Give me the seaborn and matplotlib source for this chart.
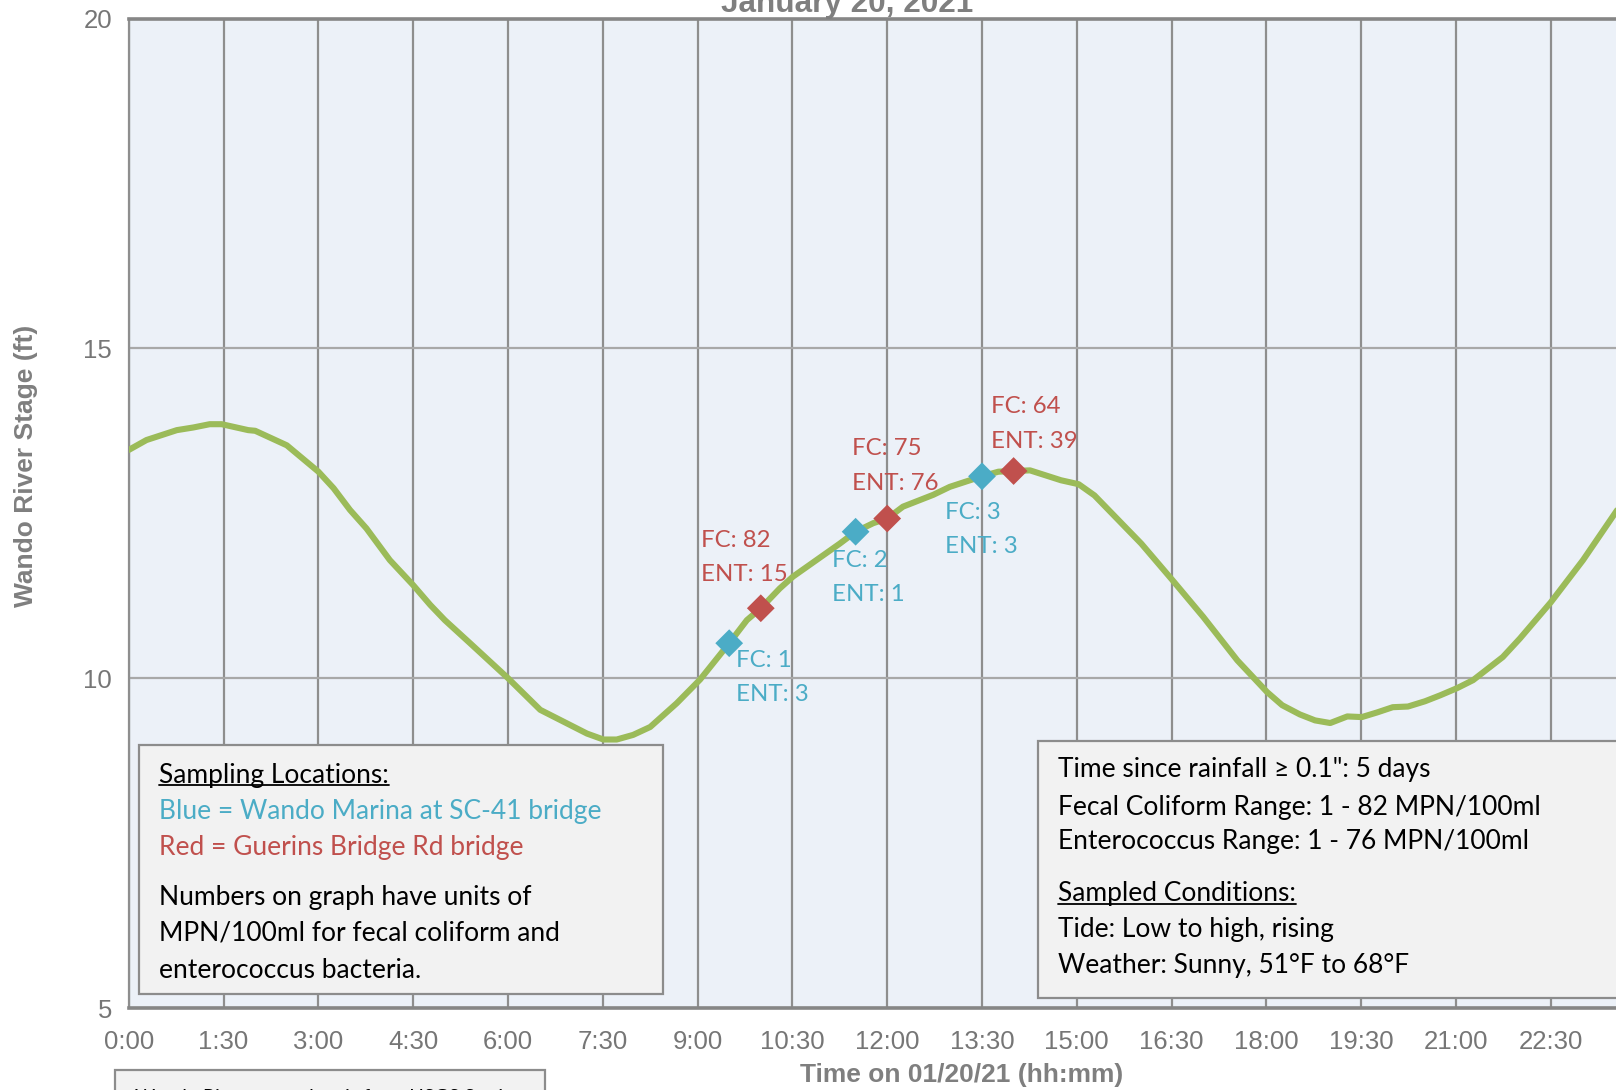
import matplotlib
matplotlib.use("Agg")
import matplotlib.pyplot as plt
import seaborn as sns
import pandas as pd
from matplotlib.patches import Rectangle
from matplotlib.lines import Line2D

# ---------------- data ----------------
hours = [0.00, 0.28, 0.76, 1.02, 1.28, 1.47, 1.89, 2.00, 2.50, 3.00, 3.24, 3.50,
         3.76, 4.13, 4.50, 4.77, 5.00, 5.40, 6.00, 6.51, 7.25, 7.51, 7.72, 7.98,
         8.25, 8.67, 9.04, 9.50, 9.78, 10.00, 10.30, 10.51, 10.88, 11.25, 11.50,
         11.78, 12.00, 12.25, 12.73, 12.99, 13.50, 13.76, 14.00, 14.26, 14.75,
         15.03, 15.28, 16.02, 16.51, 17.00, 17.54, 18.01, 18.25, 18.53, 18.77,
         19.01, 19.28, 19.51, 19.75, 20.00, 20.24, 20.51, 20.75, 21.02, 21.27,
         21.74, 22.01, 22.50, 23.01, 23.53, 23.60]
stage_ft = [13.46, 13.61, 13.76, 13.80, 13.85, 13.85, 13.76, 13.75, 13.53, 13.13,
            12.88, 12.55, 12.27, 11.79, 11.41, 11.11, 10.88, 10.53, 10.00, 9.52,
            9.16, 9.07, 9.07, 9.14, 9.26, 9.62, 9.98, 10.53, 10.88, 11.06, 11.36,
            11.54, 11.79, 12.04, 12.22, 12.35, 12.42, 12.60, 12.78, 12.90, 13.06,
            13.13, 13.14, 13.15, 13.00, 12.94, 12.77, 12.04, 11.49, 10.93, 10.27,
            9.79, 9.59, 9.45, 9.36, 9.32, 9.42, 9.41, 9.48, 9.56, 9.57, 9.65,
            9.74, 9.85, 9.97, 10.32, 10.60, 11.15, 11.79, 12.52, 12.62]

blue_hours = [9.50, 11.50, 13.50]
blue_stage = [10.53, 12.22, 13.06]
blue_labels = ["FC: 1\nENT: 3", "FC: 2\nENT: 1", "FC: 3\nENT: 3"]

red_hours = [10.00, 12.00, 14.00]
red_stage = [11.06, 12.42, 13.14]
red_labels = ["FC: 82\nENT: 15", "FC: 75\nENT: 76", "FC: 64\nENT: 39"]

x_ticks = [0, 1.5, 3, 4.5, 6, 7.5, 9, 10.5, 12, 13.5, 15, 16.5, 18, 19.5, 21, 22.5]
x_tick_labels = ["0:00", "1:30", "3:00", "4:30", "6:00", "7:30", "9:00", "10:30",
                 "12:00", "13:30", "15:00", "16:30", "18:00", "19:30", "21:00",
                 "22:30"]
y_ticks = [5, 10, 15, 20]

title = "January 20, 2021"
x_title = "Time on 01/20/21 (hh:mm)"
y_title = "Wando River Stage (ft)"

# ---------------- style ----------------
sns.set_style("white")
plt.rcParams["font.family"] = ["Liberation Sans", "DejaVu Sans"]

W, H = 1616, 1090
fig = plt.figure(figsize=(W / 100, H / 100), dpi=100)
fig.patch.set_facecolor("white")

def fx(px):
    return px / W

def fy(py):
    return 1 - py / H

GREEN = "#9BBB59"
BLUE = "#4BACC6"
RED = "#C0504D"
AXGRAY = "#7F7F7F"
TXTGRAY = "#767676"
CAL = ["Lato", "DejaVu Sans"]

left_px, top_px, bottom_px = 128.8, 18.5, 1008
right_px = left_px + 24 * 63.2
ax = fig.add_axes([fx(left_px), fy(bottom_px), (right_px - left_px) / W,
                   (bottom_px - top_px) / H])
ax.set_facecolor("#ECF1F8")

df = pd.DataFrame({"hour": hours, "stage": stage_ft})
sns.lineplot(data=df, x="hour", y="stage", ax=ax, color=GREEN, linewidth=4.4,
             sort=False, estimator=None, zorder=3)
sns.scatterplot(x=blue_hours, y=blue_stage, ax=ax, marker="D", s=200, color=BLUE,
                edgecolor="none", zorder=4)
sns.scatterplot(x=red_hours, y=red_stage, ax=ax, marker="D", s=200, color=RED,
                edgecolor="none", zorder=4)

# label offsets in pixels (dx, dy up), left aligned, vertically centred block
blue_off = [(7, -34.5), (-24, -45.5), (-37, -53.5)]
red_off = [(-60, 50.5), (-35, 52.5), (-23, 47)]
for h, v, lab, (dx, dy) in zip(blue_hours, blue_stage, blue_labels, blue_off):
    ax.annotate(lab, xy=(h, v), xytext=(dx, dy), textcoords="offset pixels",
                ha="left", va="center", color=BLUE, fontsize=17.3, family=CAL,
                linespacing=1.78, zorder=5)
for h, v, lab, (dx, dy) in zip(red_hours, red_stage, red_labels, red_off):
    ax.annotate(lab, xy=(h, v), xytext=(dx, dy), textcoords="offset pixels",
                ha="left", va="center", color=RED, fontsize=17.3, family=CAL,
                linespacing=1.78, zorder=5)

ax.set_xlim(0, 24)
ax.set_ylim(5, 20)
ax.set_xticks(x_ticks)
ax.set_xticklabels(x_tick_labels)
ax.set_yticks(y_ticks)
ax.set_yticklabels([str(t) for t in y_ticks])
ax.set_xlabel("")
ax.set_ylabel("")
ax.grid(True, axis="x", color="#8E8E8E", linewidth=1.6, zorder=1)
ax.grid(True, axis="y", color="#A8A8A8", linewidth=1.6, zorder=1)
ax.set_axisbelow(True)
ax.tick_params(axis="both", direction="out", length=6, width=1.4, color="#8E8E8E",
               labelsize=18.5, labelcolor=TXTGRAY)
ax.tick_params(axis="x", pad=10)
ax.tick_params(axis="y", pad=6)
for s in ["top", "bottom"]:
    ax.spines[s].set_color("#868686")
    ax.spines[s].set_linewidth(2.6)
ax.spines["left"].set_color("#8E8E8E")
ax.spines["left"].set_linewidth(1.6)
ax.spines["right"].set_visible(False)

# titles
fig.text(fx(847), fy(12), title, ha="center", va="baseline", fontsize=22.7,
         weight="bold", color=AXGRAY)
fig.text(fx(962), fy(1075), x_title, ha="center", va="center", fontsize=19,
         weight="bold", color=AXGRAY)
fig.text(fx(26), fy(466), y_title, ha="center", va="center", fontsize=19,
         weight="bold", color=AXGRAY, rotation=90)

# ---------------- text boxes ----------------
def box(x0, y0, x1, y1):
    fig.patches.append(Rectangle((fx(x0), fy(y1)), (x1 - x0) / W, (y1 - y0) / H,
                                 transform=fig.transFigure, facecolor="#F2F2F2",
                                 edgecolor="#8C8C8C", linewidth=1.6, zorder=5))

underlined = []
def line(x, y, s, color="black", underline=False, size=19.0):
    t = fig.text(fx(x), fy(y), s, ha="left", va="center", fontsize=size,
                 family=CAL, color=color, zorder=6)
    if underline:
        underlined.append(t)
    return t

box(139, 745, 663, 994)
line(159, 775, "Sampling Locations:", underline=True)
line(159, 811, "Blue = Wando Marina at SC-41 bridge", color=BLUE)
line(159, 847, "Red = Guerins Bridge Rd bridge", color=RED)
line(159, 898, "Numbers on graph have units of")
line(159, 933, "MPN/100ml for fecal coliform and")
line(159, 970, "enterococcus bacteria.")

box(1038, 741, 1640, 998)
line(1058, 770, "Time since rainfall \u2265 0.1\": 5 days")
line(1058, 807, "Fecal Coliform Range: 1 - 82 MPN/100ml")
line(1058, 842, "Enterococcus Range: 1 - 76 MPN/100ml")
line(1058, 894, "Sampled Conditions:", underline=True)
line(1058, 930, "Tide: Low to high, rising")
line(1058, 965, "Weather: Sunny, 51\u00b0F to 68\u00b0F")

box(115, 1070, 545, 1130)
line(135, 1097, "Wando River stage data is from USGS Station", size=14)

fig.canvas.draw()
r = fig.canvas.get_renderer()
for t in underlined:
    bb = t.get_window_extent(renderer=r)
    yline = bb.y0 + 3
    fig.add_artist(Line2D([bb.x0 / W, bb.x1 / W], [yline / H, yline / H],
                          transform=fig.transFigure, color="black", lw=1.3, zorder=7))

fig.savefig("out.png", dpi=100)
